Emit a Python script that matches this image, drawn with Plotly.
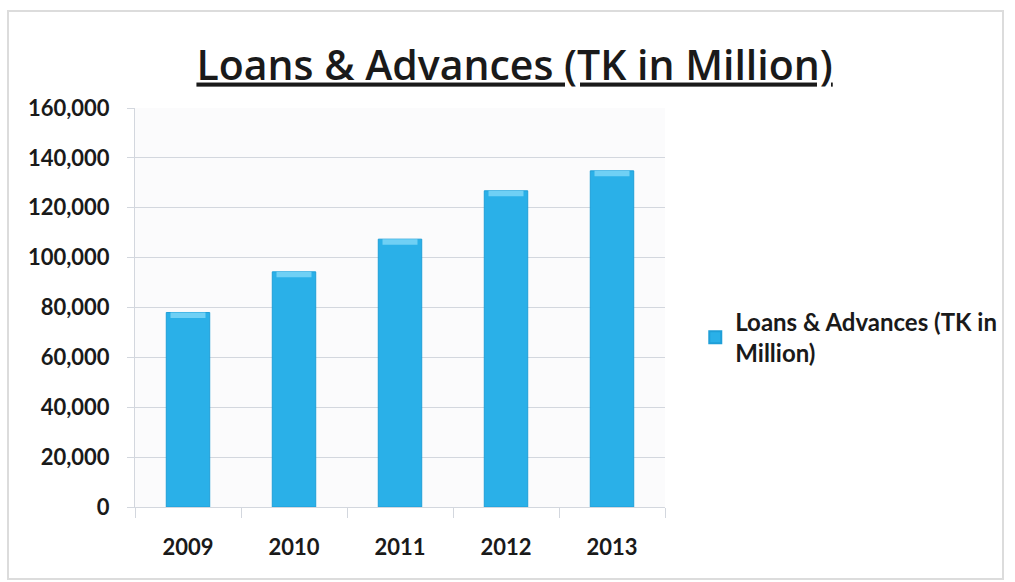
import plotly.graph_objects as go

# Loans & advances by year (TK in million)
years = ["2009", "2010", "2011", "2012", "2013"]
loans = [78000, 94300, 107400, 126800, 134800]
y_ticks = [0, 20000, 40000, 60000, 80000, 100000, 120000, 140000, 160000]
y_tick_text = [f"{v:,}" for v in y_ticks]

series_name = "Loans & Advances (TK in<br>Million)"
bar_blue = "#2ab0e8"
bevel_blue = "#6fd0f5"
font_family = "Lato, 'Open Sans', sans-serif"
grid_col = "#d3d7de"

fig = go.Figure()

fig.add_trace(go.Bar(
    x=years, y=loans, name=series_name,
    marker=dict(color=bar_blue, line=dict(color="#1f9fd8", width=1)),
    width=0.41,
))

# lighter bevel band along the top of each bar
bevel_h = 2200
fig.add_trace(go.Bar(
    x=years, y=[bevel_h] * len(loans), base=[v - bevel_h for v in loans],
    marker=dict(color=bevel_blue, line=dict(width=0)),
    width=0.33, showlegend=False, hoverinfo="skip",
))

fig.update_layout(
    width=1015, height=582,
    barmode="overlay",
    paper_bgcolor="white",
    plot_bgcolor="#fbfbfc",
    margin=dict(l=135, r=350, t=108, b=75),
    font=dict(family=font_family, color="#1a1a1a"),
    title=dict(
        text="Loans & Advances (TK in Million)",
        x=0.507, xref="container", xanchor="center",
        y=0.888, yref="container", yanchor="middle",
        font=dict(family="'Open Sans', sans-serif", size=41, color="#1a1a1a",
                  weight=600, lineposition="under"),
    ),
    xaxis=dict(
        showgrid=False, showline=True, linecolor=grid_col, linewidth=1,
        ticks="outside", ticklen=10, tickcolor=grid_col, tickson="boundaries",
        tickfont=dict(size=22, weight="bold", color="#1a1a1a"),
        ticklabelstandoff=21,
    ),
    yaxis=dict(
        range=[0, 160000], tickvals=y_ticks, ticktext=y_tick_text,
        showgrid=True, gridcolor=grid_col, gridwidth=1,
        showline=True, linecolor=grid_col, linewidth=1,
        ticks="outside", ticklen=7, tickcolor=grid_col,
        tickfont=dict(size=22, weight="bold", color="#1a1a1a"),
        ticklabelstandoff=13, zeroline=False,
    ),
    legend=dict(
        x=0.685, xref="container", y=0.42, yref="container",
        xanchor="left", yanchor="middle",
        font=dict(size=24, weight="bold", color="#1a1a1a"),
        itemsizing="constant", bgcolor="rgba(0,0,0,0)",
    ),
    shapes=[dict(
        type="rect", xref="paper", yref="paper",
        x0=-0.2396, x1=1.6377, y0=-0.1805, y1=1.243,
        line=dict(color="#dcdcdc", width=2), fillcolor="rgba(0,0,0,0)",
        layer="below",
    )],
)

fig.write_html("out.html")
